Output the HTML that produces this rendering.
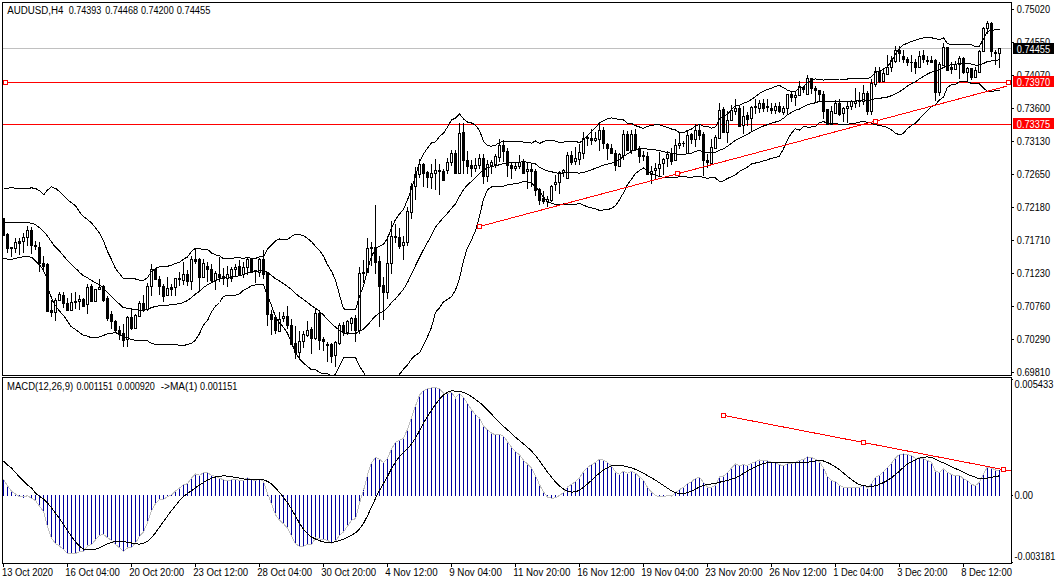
<!DOCTYPE html><html><head><meta charset="utf-8"><style>
html,body{margin:0;padding:0;background:#fff;width:1057px;height:584px;overflow:hidden}
svg{display:block;font-family:"Liberation Sans",sans-serif;font-size:10px}
.tl{font-size:10px;transform-box:fill-box}
</style></head><body>
<svg width="1057" height="584" viewBox="0 0 1057 584">
<defs>
<clipPath id="cm"><rect x="3" y="3" width="1008" height="372"/></clipPath>
<clipPath id="cd"><rect x="3" y="378" width="1008" height="185"/></clipPath>
</defs>
<rect width="1057" height="584" fill="#fff"/>
<g shape-rendering="crispEdges" fill="#000">
<rect x="2" y="2" width="1010" height="1"/>
<rect x="2" y="2" width="1" height="374"/>
<rect x="1011" y="2" width="1" height="374"/>
<rect x="2" y="375" width="1010" height="1"/>
<rect x="2" y="377" width="1010" height="1"/>
<rect x="2" y="377" width="1" height="187"/>
<rect x="1011" y="377" width="1" height="187"/>
<rect x="2" y="563" width="1010" height="1"/>
</g>
<g clip-path="url(#cm)">
<g shape-rendering="crispEdges">
<rect x="3" y="48" width="1008" height="1" fill="#c0c0c0"/>
<rect x="3" y="82" width="1008" height="1" fill="#f00"/>
<rect x="3" y="124" width="1008" height="1" fill="#f00"/>
<rect x="3.5" y="80.5" width="4" height="4" fill="#fff" stroke="#f00" stroke-width="1"/><rect x="1006.5" y="80.5" width="4" height="4" fill="#fff" stroke="#f00" stroke-width="1"/>
</g>
<g shape-rendering="crispEdges" fill="#000">
<rect x="3" y="218" width="1" height="18"/>
<rect x="2" y="218" width="3" height="18"/>
<rect x="7" y="233" width="1" height="20"/>
<rect x="6" y="234" width="3" height="15"/>
<rect x="11" y="247" width="1" height="10"/>
<rect x="10" y="247" width="3" height="2"/>
<rect x="15" y="238" width="1" height="15"/>
<rect x="14" y="242" width="3" height="7"/>
<rect x="15" y="243" width="1" height="5" fill="#fff"/>
<rect x="19" y="238" width="1" height="17"/>
<rect x="18" y="241" width="3" height="3"/>
<rect x="23" y="233" width="1" height="20"/>
<rect x="22" y="237" width="3" height="5"/>
<rect x="23" y="238" width="1" height="3" fill="#fff"/>
<rect x="27" y="226" width="1" height="20"/>
<rect x="26" y="230" width="3" height="8"/>
<rect x="27" y="231" width="1" height="6" fill="#fff"/>
<rect x="31" y="227" width="1" height="27"/>
<rect x="30" y="230" width="3" height="16"/>
<rect x="35" y="241" width="1" height="9"/>
<rect x="34" y="245" width="3" height="2"/>
<rect x="39" y="242" width="1" height="30"/>
<rect x="38" y="247" width="3" height="17"/>
<rect x="43" y="256" width="1" height="15"/>
<rect x="42" y="263" width="3" height="4"/>
<rect x="47" y="263" width="1" height="49"/>
<rect x="46" y="264" width="3" height="48"/>
<rect x="51" y="300" width="1" height="17"/>
<rect x="50" y="310" width="3" height="3"/>
<rect x="55" y="298" width="1" height="23"/>
<rect x="54" y="300" width="3" height="13"/>
<rect x="55" y="301" width="1" height="11" fill="#fff"/>
<rect x="59" y="292" width="1" height="9"/>
<rect x="58" y="294" width="3" height="7"/>
<rect x="59" y="295" width="1" height="5" fill="#fff"/>
<rect x="63" y="292" width="1" height="16"/>
<rect x="62" y="295" width="3" height="9"/>
<rect x="67" y="298" width="1" height="13"/>
<rect x="66" y="303" width="3" height="8"/>
<rect x="71" y="293" width="1" height="18"/>
<rect x="70" y="302" width="3" height="9"/>
<rect x="71" y="303" width="1" height="7" fill="#fff"/>
<rect x="75" y="292" width="1" height="17"/>
<rect x="74" y="301" width="3" height="2"/>
<rect x="79" y="295" width="1" height="15"/>
<rect x="78" y="299" width="3" height="3"/>
<rect x="79" y="300" width="1" height="1" fill="#fff"/>
<rect x="83" y="298" width="1" height="9"/>
<rect x="82" y="299" width="3" height="8"/>
<rect x="87" y="284" width="1" height="30"/>
<rect x="86" y="287" width="3" height="18"/>
<rect x="87" y="288" width="1" height="16" fill="#fff"/>
<rect x="91" y="284" width="1" height="18"/>
<rect x="90" y="286" width="3" height="16"/>
<rect x="95" y="289" width="1" height="13"/>
<rect x="94" y="289" width="3" height="13"/>
<rect x="95" y="290" width="1" height="11" fill="#fff"/>
<rect x="99" y="279" width="1" height="11"/>
<rect x="98" y="287" width="3" height="3"/>
<rect x="99" y="288" width="1" height="1" fill="#fff"/>
<rect x="103" y="285" width="1" height="17"/>
<rect x="102" y="286" width="3" height="15"/>
<rect x="107" y="296" width="1" height="25"/>
<rect x="106" y="298" width="3" height="21"/>
<rect x="111" y="311" width="1" height="18"/>
<rect x="110" y="314" width="3" height="8"/>
<rect x="115" y="320" width="1" height="13"/>
<rect x="114" y="321" width="3" height="10"/>
<rect x="119" y="326" width="1" height="14"/>
<rect x="118" y="330" width="3" height="5"/>
<rect x="123" y="324" width="1" height="23"/>
<rect x="122" y="333" width="3" height="8"/>
<rect x="127" y="316" width="1" height="31"/>
<rect x="126" y="317" width="3" height="23"/>
<rect x="127" y="318" width="1" height="21" fill="#fff"/>
<rect x="131" y="308" width="1" height="22"/>
<rect x="130" y="317" width="3" height="12"/>
<rect x="135" y="314" width="1" height="15"/>
<rect x="134" y="315" width="3" height="14"/>
<rect x="135" y="316" width="1" height="12" fill="#fff"/>
<rect x="139" y="301" width="1" height="16"/>
<rect x="138" y="303" width="3" height="14"/>
<rect x="139" y="304" width="1" height="12" fill="#fff"/>
<rect x="143" y="295" width="1" height="17"/>
<rect x="142" y="303" width="3" height="7"/>
<rect x="147" y="283" width="1" height="28"/>
<rect x="146" y="286" width="3" height="24"/>
<rect x="147" y="287" width="1" height="22" fill="#fff"/>
<rect x="151" y="264" width="1" height="32"/>
<rect x="150" y="269" width="3" height="18"/>
<rect x="151" y="270" width="1" height="16" fill="#fff"/>
<rect x="155" y="269" width="1" height="11"/>
<rect x="154" y="269" width="3" height="11"/>
<rect x="159" y="276" width="1" height="19"/>
<rect x="158" y="279" width="3" height="8"/>
<rect x="163" y="284" width="1" height="18"/>
<rect x="162" y="286" width="3" height="11"/>
<rect x="167" y="277" width="1" height="19"/>
<rect x="166" y="288" width="3" height="8"/>
<rect x="167" y="289" width="1" height="6" fill="#fff"/>
<rect x="171" y="284" width="1" height="12"/>
<rect x="170" y="287" width="3" height="3"/>
<rect x="175" y="278" width="1" height="18"/>
<rect x="174" y="278" width="3" height="10"/>
<rect x="175" y="279" width="1" height="8" fill="#fff"/>
<rect x="179" y="272" width="1" height="14"/>
<rect x="178" y="278" width="3" height="2"/>
<rect x="183" y="262" width="1" height="23"/>
<rect x="182" y="274" width="3" height="7"/>
<rect x="183" y="275" width="1" height="5" fill="#fff"/>
<rect x="187" y="270" width="1" height="16"/>
<rect x="186" y="274" width="3" height="8"/>
<rect x="191" y="256" width="1" height="34"/>
<rect x="190" y="259" width="3" height="23"/>
<rect x="191" y="260" width="1" height="21" fill="#fff"/>
<rect x="195" y="249" width="1" height="15"/>
<rect x="194" y="259" width="3" height="3"/>
<rect x="199" y="258" width="1" height="33"/>
<rect x="198" y="259" width="3" height="19"/>
<rect x="203" y="259" width="1" height="19"/>
<rect x="202" y="263" width="3" height="15"/>
<rect x="203" y="264" width="1" height="13" fill="#fff"/>
<rect x="207" y="262" width="1" height="20"/>
<rect x="206" y="266" width="3" height="4"/>
<rect x="211" y="264" width="1" height="18"/>
<rect x="210" y="269" width="3" height="12"/>
<rect x="215" y="271" width="1" height="19"/>
<rect x="214" y="273" width="3" height="8"/>
<rect x="215" y="274" width="1" height="6" fill="#fff"/>
<rect x="219" y="257" width="1" height="25"/>
<rect x="218" y="274" width="3" height="4"/>
<rect x="223" y="268" width="1" height="17"/>
<rect x="222" y="276" width="3" height="3"/>
<rect x="227" y="266" width="1" height="21"/>
<rect x="226" y="274" width="3" height="5"/>
<rect x="227" y="275" width="1" height="3" fill="#fff"/>
<rect x="231" y="267" width="1" height="15"/>
<rect x="230" y="269" width="3" height="10"/>
<rect x="231" y="270" width="1" height="8" fill="#fff"/>
<rect x="235" y="264" width="1" height="13"/>
<rect x="234" y="267" width="3" height="3"/>
<rect x="235" y="268" width="1" height="1" fill="#fff"/>
<rect x="239" y="260" width="1" height="16"/>
<rect x="238" y="266" width="3" height="9"/>
<rect x="243" y="262" width="1" height="16"/>
<rect x="242" y="267" width="3" height="8"/>
<rect x="243" y="268" width="1" height="6" fill="#fff"/>
<rect x="247" y="258" width="1" height="17"/>
<rect x="246" y="259" width="3" height="9"/>
<rect x="247" y="260" width="1" height="7" fill="#fff"/>
<rect x="251" y="258" width="1" height="15"/>
<rect x="250" y="258" width="3" height="15"/>
<rect x="255" y="270" width="1" height="13"/>
<rect x="254" y="270" width="3" height="2"/>
<rect x="259" y="258" width="1" height="19"/>
<rect x="258" y="259" width="3" height="14"/>
<rect x="259" y="260" width="1" height="12" fill="#fff"/>
<rect x="263" y="250" width="1" height="29"/>
<rect x="262" y="259" width="3" height="16"/>
<rect x="267" y="272" width="1" height="54"/>
<rect x="266" y="272" width="3" height="43"/>
<rect x="271" y="310" width="1" height="25"/>
<rect x="270" y="314" width="3" height="6"/>
<rect x="275" y="316" width="1" height="18"/>
<rect x="274" y="317" width="3" height="14"/>
<rect x="279" y="312" width="1" height="20"/>
<rect x="278" y="319" width="3" height="13"/>
<rect x="279" y="320" width="1" height="11" fill="#fff"/>
<rect x="283" y="312" width="1" height="10"/>
<rect x="282" y="316" width="3" height="3"/>
<rect x="283" y="317" width="1" height="1" fill="#fff"/>
<rect x="287" y="306" width="1" height="23"/>
<rect x="286" y="316" width="3" height="10"/>
<rect x="291" y="319" width="1" height="26"/>
<rect x="290" y="325" width="3" height="20"/>
<rect x="295" y="326" width="1" height="33"/>
<rect x="294" y="343" width="3" height="10"/>
<rect x="299" y="331" width="1" height="27"/>
<rect x="298" y="341" width="3" height="12"/>
<rect x="299" y="342" width="1" height="10" fill="#fff"/>
<rect x="303" y="331" width="1" height="17"/>
<rect x="302" y="334" width="3" height="8"/>
<rect x="303" y="335" width="1" height="6" fill="#fff"/>
<rect x="307" y="321" width="1" height="16"/>
<rect x="306" y="330" width="3" height="6"/>
<rect x="307" y="331" width="1" height="4" fill="#fff"/>
<rect x="311" y="327" width="1" height="27"/>
<rect x="310" y="329" width="3" height="10"/>
<rect x="315" y="309" width="1" height="31"/>
<rect x="314" y="313" width="3" height="26"/>
<rect x="315" y="314" width="1" height="24" fill="#fff"/>
<rect x="319" y="310" width="1" height="40"/>
<rect x="318" y="313" width="3" height="28"/>
<rect x="323" y="337" width="1" height="14"/>
<rect x="322" y="339" width="3" height="3"/>
<rect x="327" y="342" width="1" height="20"/>
<rect x="326" y="344" width="3" height="2"/>
<rect x="331" y="343" width="1" height="20"/>
<rect x="330" y="344" width="3" height="13"/>
<rect x="335" y="341" width="1" height="26"/>
<rect x="334" y="342" width="3" height="14"/>
<rect x="335" y="343" width="1" height="12" fill="#fff"/>
<rect x="339" y="323" width="1" height="22"/>
<rect x="338" y="325" width="3" height="19"/>
<rect x="339" y="326" width="1" height="17" fill="#fff"/>
<rect x="343" y="322" width="1" height="14"/>
<rect x="342" y="325" width="3" height="8"/>
<rect x="347" y="320" width="1" height="15"/>
<rect x="346" y="321" width="3" height="12"/>
<rect x="347" y="322" width="1" height="10" fill="#fff"/>
<rect x="351" y="317" width="1" height="14"/>
<rect x="350" y="318" width="3" height="6"/>
<rect x="351" y="319" width="1" height="4" fill="#fff"/>
<rect x="355" y="315" width="1" height="27"/>
<rect x="354" y="318" width="3" height="13"/>
<rect x="359" y="267" width="1" height="67"/>
<rect x="358" y="273" width="3" height="58"/>
<rect x="359" y="274" width="1" height="56" fill="#fff"/>
<rect x="363" y="260" width="1" height="23"/>
<rect x="362" y="272" width="3" height="2"/>
<rect x="367" y="238" width="1" height="35"/>
<rect x="366" y="248" width="3" height="25"/>
<rect x="367" y="249" width="1" height="23" fill="#fff"/>
<rect x="371" y="242" width="1" height="24"/>
<rect x="370" y="247" width="3" height="2"/>
<rect x="375" y="205" width="1" height="69"/>
<rect x="374" y="247" width="3" height="16"/>
<rect x="379" y="256" width="1" height="71"/>
<rect x="378" y="261" width="3" height="26"/>
<rect x="383" y="277" width="1" height="43"/>
<rect x="382" y="285" width="3" height="8"/>
<rect x="387" y="236" width="1" height="63"/>
<rect x="386" y="263" width="3" height="30"/>
<rect x="387" y="264" width="1" height="28" fill="#fff"/>
<rect x="391" y="221" width="1" height="53"/>
<rect x="390" y="236" width="3" height="28"/>
<rect x="391" y="237" width="1" height="26" fill="#fff"/>
<rect x="395" y="224" width="1" height="19"/>
<rect x="394" y="236" width="3" height="2"/>
<rect x="399" y="228" width="1" height="21"/>
<rect x="398" y="237" width="3" height="10"/>
<rect x="403" y="236" width="1" height="24"/>
<rect x="402" y="242" width="3" height="4"/>
<rect x="403" y="243" width="1" height="2" fill="#fff"/>
<rect x="407" y="207" width="1" height="39"/>
<rect x="406" y="211" width="3" height="32"/>
<rect x="407" y="212" width="1" height="30" fill="#fff"/>
<rect x="411" y="183" width="1" height="36"/>
<rect x="410" y="186" width="3" height="27"/>
<rect x="411" y="187" width="1" height="25" fill="#fff"/>
<rect x="415" y="167" width="1" height="33"/>
<rect x="414" y="174" width="3" height="13"/>
<rect x="415" y="175" width="1" height="11" fill="#fff"/>
<rect x="419" y="159" width="1" height="19"/>
<rect x="418" y="164" width="3" height="11"/>
<rect x="419" y="165" width="1" height="9" fill="#fff"/>
<rect x="423" y="163" width="1" height="24"/>
<rect x="422" y="164" width="3" height="10"/>
<rect x="427" y="171" width="1" height="17"/>
<rect x="426" y="172" width="3" height="6"/>
<rect x="431" y="164" width="1" height="25"/>
<rect x="430" y="173" width="3" height="5"/>
<rect x="431" y="174" width="1" height="3" fill="#fff"/>
<rect x="435" y="159" width="1" height="31"/>
<rect x="434" y="170" width="3" height="4"/>
<rect x="435" y="171" width="1" height="2" fill="#fff"/>
<rect x="439" y="164" width="1" height="31"/>
<rect x="438" y="170" width="3" height="2"/>
<rect x="443" y="169" width="1" height="12"/>
<rect x="442" y="171" width="3" height="10"/>
<rect x="447" y="158" width="1" height="16"/>
<rect x="446" y="162" width="3" height="9"/>
<rect x="447" y="163" width="1" height="7" fill="#fff"/>
<rect x="451" y="150" width="1" height="16"/>
<rect x="450" y="153" width="3" height="10"/>
<rect x="451" y="154" width="1" height="8" fill="#fff"/>
<rect x="455" y="150" width="1" height="24"/>
<rect x="454" y="153" width="3" height="21"/>
<rect x="459" y="123" width="1" height="51"/>
<rect x="458" y="133" width="3" height="41"/>
<rect x="459" y="134" width="1" height="39" fill="#fff"/>
<rect x="463" y="123" width="1" height="51"/>
<rect x="462" y="132" width="3" height="29"/>
<rect x="467" y="151" width="1" height="23"/>
<rect x="466" y="160" width="3" height="7"/>
<rect x="471" y="160" width="1" height="17"/>
<rect x="470" y="165" width="3" height="4"/>
<rect x="475" y="158" width="1" height="14"/>
<rect x="474" y="165" width="3" height="4"/>
<rect x="475" y="166" width="1" height="2" fill="#fff"/>
<rect x="479" y="154" width="1" height="15"/>
<rect x="478" y="158" width="3" height="8"/>
<rect x="479" y="159" width="1" height="6" fill="#fff"/>
<rect x="483" y="154" width="1" height="30"/>
<rect x="482" y="158" width="3" height="19"/>
<rect x="487" y="160" width="1" height="22"/>
<rect x="486" y="164" width="3" height="13"/>
<rect x="487" y="165" width="1" height="11" fill="#fff"/>
<rect x="491" y="160" width="1" height="14"/>
<rect x="490" y="162" width="3" height="4"/>
<rect x="491" y="163" width="1" height="2" fill="#fff"/>
<rect x="495" y="154" width="1" height="14"/>
<rect x="494" y="156" width="3" height="9"/>
<rect x="495" y="157" width="1" height="7" fill="#fff"/>
<rect x="499" y="139" width="1" height="23"/>
<rect x="498" y="145" width="3" height="13"/>
<rect x="499" y="146" width="1" height="11" fill="#fff"/>
<rect x="503" y="140" width="1" height="22"/>
<rect x="502" y="145" width="3" height="7"/>
<rect x="507" y="148" width="1" height="29"/>
<rect x="506" y="151" width="3" height="15"/>
<rect x="511" y="163" width="1" height="16"/>
<rect x="510" y="165" width="3" height="4"/>
<rect x="515" y="162" width="1" height="9"/>
<rect x="514" y="166" width="3" height="3"/>
<rect x="515" y="167" width="1" height="1" fill="#fff"/>
<rect x="519" y="155" width="1" height="14"/>
<rect x="518" y="162" width="3" height="5"/>
<rect x="519" y="163" width="1" height="3" fill="#fff"/>
<rect x="523" y="159" width="1" height="15"/>
<rect x="522" y="161" width="3" height="13"/>
<rect x="527" y="162" width="1" height="27"/>
<rect x="526" y="169" width="3" height="3"/>
<rect x="527" y="170" width="1" height="1" fill="#fff"/>
<rect x="531" y="163" width="1" height="24"/>
<rect x="530" y="169" width="3" height="3"/>
<rect x="535" y="169" width="1" height="27"/>
<rect x="534" y="171" width="3" height="20"/>
<rect x="539" y="188" width="1" height="17"/>
<rect x="538" y="189" width="3" height="12"/>
<rect x="543" y="191" width="1" height="13"/>
<rect x="542" y="198" width="3" height="4"/>
<rect x="547" y="196" width="1" height="11"/>
<rect x="546" y="199" width="3" height="3"/>
<rect x="547" y="200" width="1" height="1" fill="#fff"/>
<rect x="551" y="185" width="1" height="17"/>
<rect x="550" y="186" width="3" height="15"/>
<rect x="551" y="187" width="1" height="13" fill="#fff"/>
<rect x="555" y="175" width="1" height="16"/>
<rect x="554" y="182" width="3" height="3"/>
<rect x="555" y="183" width="1" height="1" fill="#fff"/>
<rect x="559" y="171" width="1" height="23"/>
<rect x="558" y="172" width="3" height="11"/>
<rect x="559" y="173" width="1" height="9" fill="#fff"/>
<rect x="563" y="169" width="1" height="8"/>
<rect x="562" y="170" width="3" height="3"/>
<rect x="563" y="171" width="1" height="1" fill="#fff"/>
<rect x="567" y="152" width="1" height="27"/>
<rect x="566" y="155" width="3" height="24"/>
<rect x="567" y="156" width="1" height="22" fill="#fff"/>
<rect x="571" y="151" width="1" height="14"/>
<rect x="570" y="155" width="3" height="8"/>
<rect x="575" y="147" width="1" height="18"/>
<rect x="574" y="158" width="3" height="4"/>
<rect x="575" y="159" width="1" height="2" fill="#fff"/>
<rect x="579" y="144" width="1" height="21"/>
<rect x="578" y="152" width="3" height="8"/>
<rect x="579" y="153" width="1" height="6" fill="#fff"/>
<rect x="583" y="132" width="1" height="27"/>
<rect x="582" y="138" width="3" height="16"/>
<rect x="583" y="139" width="1" height="14" fill="#fff"/>
<rect x="587" y="136" width="1" height="10"/>
<rect x="586" y="137" width="3" height="2"/>
<rect x="591" y="129" width="1" height="16"/>
<rect x="590" y="138" width="3" height="3"/>
<rect x="595" y="132" width="1" height="10"/>
<rect x="594" y="138" width="3" height="3"/>
<rect x="595" y="139" width="1" height="1" fill="#fff"/>
<rect x="599" y="122" width="1" height="29"/>
<rect x="598" y="130" width="3" height="10"/>
<rect x="599" y="131" width="1" height="8" fill="#fff"/>
<rect x="603" y="127" width="1" height="22"/>
<rect x="602" y="130" width="3" height="14"/>
<rect x="607" y="143" width="1" height="17"/>
<rect x="606" y="144" width="3" height="5"/>
<rect x="611" y="144" width="1" height="10"/>
<rect x="610" y="148" width="3" height="6"/>
<rect x="615" y="150" width="1" height="21"/>
<rect x="614" y="153" width="3" height="13"/>
<rect x="619" y="153" width="1" height="14"/>
<rect x="618" y="154" width="3" height="13"/>
<rect x="619" y="155" width="1" height="11" fill="#fff"/>
<rect x="623" y="130" width="1" height="30"/>
<rect x="622" y="134" width="3" height="22"/>
<rect x="623" y="135" width="1" height="20" fill="#fff"/>
<rect x="627" y="131" width="1" height="20"/>
<rect x="626" y="134" width="3" height="17"/>
<rect x="631" y="130" width="1" height="24"/>
<rect x="630" y="134" width="3" height="17"/>
<rect x="631" y="135" width="1" height="15" fill="#fff"/>
<rect x="635" y="129" width="1" height="22"/>
<rect x="634" y="134" width="3" height="15"/>
<rect x="639" y="146" width="1" height="17"/>
<rect x="638" y="148" width="3" height="9"/>
<rect x="643" y="151" width="1" height="10"/>
<rect x="642" y="155" width="3" height="2"/>
<rect x="647" y="152" width="1" height="23"/>
<rect x="646" y="156" width="3" height="19"/>
<rect x="651" y="166" width="1" height="18"/>
<rect x="650" y="171" width="3" height="4"/>
<rect x="651" y="172" width="1" height="2" fill="#fff"/>
<rect x="655" y="163" width="1" height="17"/>
<rect x="654" y="168" width="3" height="3"/>
<rect x="655" y="169" width="1" height="1" fill="#fff"/>
<rect x="659" y="152" width="1" height="24"/>
<rect x="658" y="164" width="3" height="5"/>
<rect x="659" y="165" width="1" height="3" fill="#fff"/>
<rect x="663" y="158" width="1" height="17"/>
<rect x="662" y="159" width="3" height="5"/>
<rect x="663" y="160" width="1" height="3" fill="#fff"/>
<rect x="667" y="151" width="1" height="16"/>
<rect x="666" y="154" width="3" height="5"/>
<rect x="667" y="155" width="1" height="3" fill="#fff"/>
<rect x="671" y="148" width="1" height="17"/>
<rect x="670" y="153" width="3" height="9"/>
<rect x="675" y="139" width="1" height="22"/>
<rect x="674" y="145" width="3" height="16"/>
<rect x="675" y="146" width="1" height="14" fill="#fff"/>
<rect x="679" y="132" width="1" height="17"/>
<rect x="678" y="143" width="3" height="3"/>
<rect x="679" y="144" width="1" height="1" fill="#fff"/>
<rect x="683" y="141" width="1" height="6"/>
<rect x="682" y="143" width="3" height="1"/>
<rect x="687" y="131" width="1" height="23"/>
<rect x="686" y="135" width="3" height="19"/>
<rect x="687" y="136" width="1" height="17" fill="#fff"/>
<rect x="691" y="133" width="1" height="11"/>
<rect x="690" y="134" width="3" height="6"/>
<rect x="695" y="124" width="1" height="23"/>
<rect x="694" y="130" width="3" height="10"/>
<rect x="695" y="131" width="1" height="8" fill="#fff"/>
<rect x="699" y="124" width="1" height="16"/>
<rect x="698" y="130" width="3" height="6"/>
<rect x="703" y="132" width="1" height="44"/>
<rect x="702" y="134" width="3" height="27"/>
<rect x="707" y="154" width="1" height="14"/>
<rect x="706" y="160" width="3" height="3"/>
<rect x="711" y="139" width="1" height="26"/>
<rect x="710" y="147" width="3" height="17"/>
<rect x="711" y="148" width="1" height="15" fill="#fff"/>
<rect x="715" y="135" width="1" height="14"/>
<rect x="714" y="137" width="3" height="12"/>
<rect x="715" y="138" width="1" height="10" fill="#fff"/>
<rect x="719" y="103" width="1" height="36"/>
<rect x="718" y="110" width="3" height="29"/>
<rect x="719" y="111" width="1" height="27" fill="#fff"/>
<rect x="723" y="107" width="1" height="26"/>
<rect x="722" y="109" width="3" height="24"/>
<rect x="727" y="111" width="1" height="32"/>
<rect x="726" y="120" width="3" height="13"/>
<rect x="727" y="121" width="1" height="11" fill="#fff"/>
<rect x="731" y="105" width="1" height="16"/>
<rect x="730" y="110" width="3" height="11"/>
<rect x="731" y="111" width="1" height="9" fill="#fff"/>
<rect x="735" y="99" width="1" height="16"/>
<rect x="734" y="108" width="3" height="4"/>
<rect x="735" y="109" width="1" height="2" fill="#fff"/>
<rect x="739" y="106" width="1" height="21"/>
<rect x="738" y="108" width="3" height="19"/>
<rect x="743" y="106" width="1" height="28"/>
<rect x="742" y="116" width="3" height="10"/>
<rect x="743" y="117" width="1" height="8" fill="#fff"/>
<rect x="747" y="112" width="1" height="14"/>
<rect x="746" y="115" width="3" height="5"/>
<rect x="751" y="106" width="1" height="26"/>
<rect x="750" y="107" width="3" height="12"/>
<rect x="751" y="108" width="1" height="10" fill="#fff"/>
<rect x="755" y="99" width="1" height="15"/>
<rect x="754" y="106" width="3" height="2"/>
<rect x="759" y="100" width="1" height="13"/>
<rect x="758" y="103" width="3" height="6"/>
<rect x="759" y="104" width="1" height="4" fill="#fff"/>
<rect x="763" y="99" width="1" height="13"/>
<rect x="762" y="103" width="3" height="6"/>
<rect x="767" y="99" width="1" height="13"/>
<rect x="766" y="106" width="3" height="2"/>
<rect x="771" y="103" width="1" height="11"/>
<rect x="770" y="108" width="3" height="3"/>
<rect x="775" y="103" width="1" height="11"/>
<rect x="774" y="106" width="3" height="5"/>
<rect x="775" y="107" width="1" height="3" fill="#fff"/>
<rect x="779" y="102" width="1" height="11"/>
<rect x="778" y="106" width="3" height="6"/>
<rect x="783" y="106" width="1" height="9"/>
<rect x="782" y="108" width="3" height="5"/>
<rect x="783" y="109" width="1" height="3" fill="#fff"/>
<rect x="787" y="94" width="1" height="21"/>
<rect x="786" y="94" width="3" height="15"/>
<rect x="787" y="95" width="1" height="13" fill="#fff"/>
<rect x="791" y="91" width="1" height="11"/>
<rect x="790" y="94" width="3" height="4"/>
<rect x="795" y="91" width="1" height="15"/>
<rect x="794" y="95" width="3" height="3"/>
<rect x="795" y="96" width="1" height="1" fill="#fff"/>
<rect x="799" y="81" width="1" height="15"/>
<rect x="798" y="86" width="3" height="10"/>
<rect x="799" y="87" width="1" height="8" fill="#fff"/>
<rect x="803" y="86" width="1" height="7"/>
<rect x="802" y="87" width="3" height="3"/>
<rect x="807" y="75" width="1" height="20"/>
<rect x="806" y="78" width="3" height="17"/>
<rect x="807" y="79" width="1" height="15" fill="#fff"/>
<rect x="811" y="78" width="1" height="16"/>
<rect x="810" y="78" width="3" height="11"/>
<rect x="815" y="86" width="1" height="17"/>
<rect x="814" y="88" width="3" height="3"/>
<rect x="819" y="90" width="1" height="12"/>
<rect x="818" y="90" width="3" height="5"/>
<rect x="823" y="91" width="1" height="28"/>
<rect x="822" y="94" width="3" height="18"/>
<rect x="827" y="109" width="1" height="16"/>
<rect x="826" y="109" width="3" height="16"/>
<rect x="831" y="106" width="1" height="19"/>
<rect x="830" y="111" width="3" height="14"/>
<rect x="831" y="112" width="1" height="12" fill="#fff"/>
<rect x="835" y="100" width="1" height="14"/>
<rect x="834" y="103" width="3" height="11"/>
<rect x="835" y="104" width="1" height="9" fill="#fff"/>
<rect x="839" y="99" width="1" height="17"/>
<rect x="838" y="103" width="3" height="12"/>
<rect x="843" y="107" width="1" height="15"/>
<rect x="842" y="108" width="3" height="6"/>
<rect x="843" y="109" width="1" height="4" fill="#fff"/>
<rect x="847" y="102" width="1" height="21"/>
<rect x="846" y="106" width="3" height="3"/>
<rect x="847" y="107" width="1" height="1" fill="#fff"/>
<rect x="851" y="100" width="1" height="10"/>
<rect x="850" y="101" width="3" height="6"/>
<rect x="851" y="102" width="1" height="4" fill="#fff"/>
<rect x="855" y="88" width="1" height="20"/>
<rect x="854" y="101" width="3" height="3"/>
<rect x="855" y="102" width="1" height="1" fill="#fff"/>
<rect x="859" y="92" width="1" height="15"/>
<rect x="858" y="100" width="3" height="2"/>
<rect x="863" y="85" width="1" height="20"/>
<rect x="862" y="93" width="3" height="9"/>
<rect x="863" y="94" width="1" height="7" fill="#fff"/>
<rect x="867" y="91" width="1" height="24"/>
<rect x="866" y="93" width="3" height="19"/>
<rect x="871" y="79" width="1" height="36"/>
<rect x="870" y="83" width="3" height="29"/>
<rect x="871" y="84" width="1" height="27" fill="#fff"/>
<rect x="875" y="67" width="1" height="20"/>
<rect x="874" y="71" width="3" height="14"/>
<rect x="875" y="72" width="1" height="12" fill="#fff"/>
<rect x="879" y="67" width="1" height="16"/>
<rect x="878" y="71" width="3" height="11"/>
<rect x="883" y="69" width="1" height="13"/>
<rect x="882" y="73" width="3" height="9"/>
<rect x="883" y="74" width="1" height="7" fill="#fff"/>
<rect x="887" y="55" width="1" height="20"/>
<rect x="886" y="67" width="3" height="8"/>
<rect x="887" y="68" width="1" height="6" fill="#fff"/>
<rect x="891" y="56" width="1" height="16"/>
<rect x="890" y="60" width="3" height="8"/>
<rect x="891" y="61" width="1" height="6" fill="#fff"/>
<rect x="895" y="46" width="1" height="17"/>
<rect x="894" y="50" width="3" height="12"/>
<rect x="895" y="51" width="1" height="10" fill="#fff"/>
<rect x="899" y="46" width="1" height="16"/>
<rect x="898" y="50" width="3" height="4"/>
<rect x="903" y="50" width="1" height="13"/>
<rect x="902" y="56" width="3" height="4"/>
<rect x="907" y="57" width="1" height="9"/>
<rect x="906" y="59" width="3" height="4"/>
<rect x="911" y="55" width="1" height="17"/>
<rect x="910" y="62" width="3" height="1"/>
<rect x="915" y="59" width="1" height="15"/>
<rect x="914" y="62" width="3" height="6"/>
<rect x="919" y="51" width="1" height="17"/>
<rect x="918" y="56" width="3" height="12"/>
<rect x="919" y="57" width="1" height="10" fill="#fff"/>
<rect x="923" y="50" width="1" height="13"/>
<rect x="922" y="55" width="3" height="5"/>
<rect x="927" y="56" width="1" height="9"/>
<rect x="926" y="60" width="3" height="2"/>
<rect x="931" y="56" width="1" height="7"/>
<rect x="930" y="60" width="3" height="3"/>
<rect x="935" y="59" width="1" height="42"/>
<rect x="934" y="60" width="3" height="33"/>
<rect x="939" y="62" width="1" height="34"/>
<rect x="938" y="64" width="3" height="29"/>
<rect x="939" y="65" width="1" height="27" fill="#fff"/>
<rect x="943" y="43" width="1" height="23"/>
<rect x="942" y="47" width="3" height="19"/>
<rect x="943" y="48" width="1" height="17" fill="#fff"/>
<rect x="947" y="47" width="1" height="24"/>
<rect x="946" y="47" width="3" height="24"/>
<rect x="951" y="62" width="1" height="12"/>
<rect x="950" y="67" width="3" height="3"/>
<rect x="955" y="61" width="1" height="9"/>
<rect x="954" y="64" width="3" height="6"/>
<rect x="955" y="65" width="1" height="4" fill="#fff"/>
<rect x="959" y="56" width="1" height="23"/>
<rect x="958" y="58" width="3" height="7"/>
<rect x="959" y="59" width="1" height="5" fill="#fff"/>
<rect x="963" y="57" width="1" height="17"/>
<rect x="962" y="58" width="3" height="15"/>
<rect x="967" y="67" width="1" height="15"/>
<rect x="966" y="68" width="3" height="5"/>
<rect x="967" y="69" width="1" height="3" fill="#fff"/>
<rect x="971" y="68" width="1" height="12"/>
<rect x="970" y="68" width="3" height="10"/>
<rect x="975" y="67" width="1" height="11"/>
<rect x="974" y="70" width="3" height="8"/>
<rect x="975" y="71" width="1" height="6" fill="#fff"/>
<rect x="979" y="50" width="1" height="23"/>
<rect x="978" y="51" width="3" height="22"/>
<rect x="979" y="52" width="1" height="20" fill="#fff"/>
<rect x="983" y="27" width="1" height="25"/>
<rect x="982" y="28" width="3" height="24"/>
<rect x="983" y="29" width="1" height="22" fill="#fff"/>
<rect x="987" y="21" width="1" height="13"/>
<rect x="986" y="23" width="3" height="6"/>
<rect x="987" y="24" width="1" height="4" fill="#fff"/>
<rect x="991" y="22" width="1" height="35"/>
<rect x="990" y="23" width="3" height="29"/>
<rect x="995" y="50" width="1" height="15"/>
<rect x="994" y="52" width="3" height="2"/>
<rect x="999" y="48" width="1" height="20"/>
<rect x="998" y="48" width="3" height="6"/>
<rect x="999" y="49" width="1" height="4" fill="#fff"/>
</g>
<g shape-rendering="crispEdges"><polyline points="3.5,222.9 29.7,222.9 34.5,224.1 41.8,229.6 46.7,235.0 54.0,245.4 58.8,250.2 68.5,261.8 78.3,270.9 79.5,272.3 83.5,275.9 87.5,277.8 91.5,280.4 95.5,282.8 99.5,285.0 103.5,288.1 107.5,292.6 111.5,296.4 115.5,300.6 119.5,304.1 123.5,307.8 127.5,308.1 131.5,308.9 135.5,309.6 139.5,310.1 143.5,310.4 147.5,309.2 151.5,307.6 155.5,306.4 159.5,305.8 163.5,305.2 167.5,305.3 171.5,304.7 175.5,304.1 179.5,303.8 183.5,302.4 187.5,300.6 191.5,297.5 195.5,294.1 199.5,291.2 203.5,287.4 207.5,284.9 211.5,282.6 215.5,280.4 219.5,279.1 223.5,277.6 227.5,277.0 231.5,277.0 235.5,276.4 239.5,275.8 243.5,274.4 247.5,272.9 251.5,272.1 255.5,271.7 259.5,270.7 263.5,270.7 267.5,272.4 271.5,275.4 275.5,278.8 279.5,280.9 283.5,283.6 287.5,286.4 291.5,289.6 295.5,293.5 299.5,296.7 303.5,299.5 307.5,302.3 311.5,305.8 315.5,308.1 319.5,311.4 323.5,315.1 327.5,319.4 331.5,323.6 335.5,327.1 339.5,330.4 343.5,333.3 347.5,333.6 351.5,333.6 355.5,333.6 359.5,331.3 363.5,329.1 367.5,325.2 371.5,320.4 375.5,315.9 379.5,313.2 383.5,311.1 387.5,307.8 391.5,302.6 395.5,298.9 399.5,294.1 403.5,289.2 407.5,282.5 411.5,274.0 415.5,265.6 419.5,257.6 423.5,249.6 427.5,242.4 431.5,235.2 435.5,227.2 439.5,222.1 443.5,217.4 447.5,213.2 451.5,208.4 455.5,203.9 459.5,196.3 463.5,189.7 467.5,184.8 471.5,181.4 475.5,177.8 479.5,173.4 483.5,170.2 487.5,167.8 491.5,166.6 495.5,165.7 499.5,164.8 503.5,163.7 507.5,163.1 511.5,162.8 515.5,162.6 519.5,162.2 523.5,161.8 527.5,162.2 531.5,163.1 535.5,163.9 539.5,167.2 543.5,169.3 547.5,170.9 551.5,171.8 555.5,172.7 559.5,173.4 563.5,173.1 567.5,172.7 571.5,172.7 575.5,172.8 579.5,173.1 583.5,172.4 587.5,171.1 591.5,169.7 595.5,168.3 599.5,166.7 603.5,165.2 607.5,164.2 611.5,163.2 615.5,162.0 619.5,159.7 623.5,156.3 627.5,153.9 631.5,151.3 635.5,149.6 639.5,148.8 643.5,148.1 647.5,149.1 651.5,149.5 655.5,150.0 659.5,150.6 663.5,151.7 667.5,152.4 671.5,153.5 675.5,153.8 679.5,154.5 683.5,154.5 687.5,153.8 691.5,153.2 695.5,151.4 699.5,150.4 703.5,151.8 707.5,152.3 711.5,153.0 715.5,152.4 719.5,150.2 723.5,148.9 727.5,146.2 731.5,143.2 735.5,140.2 739.5,138.3 743.5,136.2 747.5,134.4 751.5,131.7 755.5,129.8 759.5,127.8 763.5,126.0 767.5,124.7 771.5,123.2 775.5,122.0 779.5,120.8 783.5,118.2 787.5,114.8 791.5,112.3 795.5,110.2 799.5,109.0 803.5,106.8 807.5,104.8 811.5,103.7 815.5,102.8 819.5,101.2 823.5,100.9 827.5,101.2 831.5,101.3 835.5,101.2 839.5,101.7 843.5,101.7 847.5,101.7 851.5,101.2 855.5,101.0 859.5,100.5 863.5,99.7 867.5,100.5 871.5,99.8 875.5,98.7 879.5,98.4 883.5,97.6 887.5,97.0 891.5,95.7 895.5,93.7 899.5,91.6 903.5,89.0 907.5,85.9 911.5,83.5 915.5,81.7 919.5,78.8 923.5,76.3 927.5,74.0 931.5,72.1 935.5,71.7 939.5,69.8 943.5,67.5 947.5,65.5 951.5,64.8 955.5,64.4 959.5,63.2 963.5,63.2 967.5,63.2 971.5,64.1 975.5,65.1 979.5,65.0 983.5,63.5 987.5,61.5 991.5,61.0 995.5,60.2 999.5,59.9" fill="none" stroke="#000" stroke-width="1" /><polyline points="3.5,188.3 13.9,187.7 15.1,188.9 29.1,188.9 30.9,187.7 35.7,188.6 39.4,190.7 44.0,194.7 46.7,190.7 51.5,186.7 56.4,188.9 61.3,193.1 68.5,200.4 73.4,204.1 77.0,207.7 79.5,212.1 83.5,216.4 87.5,219.5 91.5,222.9 95.5,227.9 99.5,233.1 103.5,240.8 107.5,251.5 111.5,259.5 115.5,268.6 119.5,273.7 123.5,278.6 127.5,278.6 131.5,278.1 135.5,279.0 139.5,280.1 143.5,280.6 147.5,277.6 151.5,271.6 155.5,268.4 159.5,266.9 163.5,266.2 167.5,266.3 171.5,265.1 175.5,263.5 179.5,262.3 183.5,259.1 187.5,257.0 191.5,251.5 195.5,248.1 199.5,248.7 203.5,249.8 207.5,249.3 211.5,253.0 215.5,254.8 219.5,255.8 223.5,258.9 227.5,258.7 231.5,258.7 235.5,257.7 239.5,257.7 243.5,258.6 247.5,257.3 251.5,258.4 255.5,258.4 259.5,256.9 263.5,256.9 267.5,249.1 271.5,245.1 275.5,240.9 279.5,239.0 283.5,239.8 287.5,239.5 291.5,236.4 295.5,234.3 299.5,234.5 303.5,235.8 307.5,238.3 311.5,241.7 315.5,246.4 319.5,250.2 323.5,256.1 327.5,264.8 331.5,271.2 335.5,280.0 339.5,294.9 343.5,308.7 347.5,309.9 351.5,309.8 355.5,309.8 359.5,296.2 363.5,286.0 367.5,269.6 371.5,256.4 375.5,248.9 379.5,246.1 383.5,244.2 387.5,238.4 391.5,228.2 395.5,219.4 399.5,214.0 403.5,209.2 407.5,200.0 411.5,188.8 415.5,176.1 419.5,162.2 423.5,154.1 427.5,148.0 431.5,143.0 435.5,141.9 439.5,136.3 443.5,133.2 447.5,126.9 451.5,120.0 455.5,118.0 459.5,113.9 463.5,118.9 467.5,122.1 471.5,123.0 475.5,125.1 479.5,130.6 483.5,141.1 487.5,145.8 491.5,146.2 495.5,145.2 499.5,142.5 503.5,141.0 507.5,141.3 511.5,141.4 515.5,141.5 519.5,141.4 523.5,142.1 527.5,142.2 531.5,143.1 535.5,141.0 539.5,143.5 543.5,141.5 547.5,140.3 551.5,140.5 555.5,141.1 559.5,142.5 563.5,142.2 567.5,141.0 571.5,141.0 575.5,141.3 579.5,142.7 583.5,139.8 587.5,135.3 591.5,131.5 595.5,127.8 599.5,123.0 603.5,120.5 607.5,118.9 611.5,117.9 615.5,118.4 619.5,119.7 623.5,119.9 627.5,123.2 631.5,123.4 635.5,125.7 639.5,127.0 643.5,128.4 647.5,126.4 651.5,125.5 655.5,124.8 659.5,124.7 663.5,126.1 667.5,127.6 671.5,129.0 675.5,130.0 679.5,132.6 683.5,132.6 687.5,130.5 691.5,129.0 695.5,126.1 699.5,124.2 703.5,126.3 707.5,126.4 711.5,128.3 715.5,126.9 719.5,118.8 723.5,116.9 727.5,114.1 731.5,109.7 735.5,105.6 739.5,105.1 743.5,103.1 747.5,101.7 751.5,99.5 755.5,96.6 759.5,93.4 763.5,91.4 767.5,89.4 771.5,88.2 775.5,86.4 779.5,85.5 783.5,87.6 787.5,90.1 791.5,91.6 795.5,91.7 799.5,87.8 803.5,87.0 807.5,82.4 811.5,80.3 815.5,78.9 819.5,79.7 823.5,80.1 827.5,79.3 831.5,79.2 835.5,79.2 839.5,79.0 843.5,79.0 847.5,79.0 851.5,78.9 855.5,78.8 859.5,78.8 863.5,78.2 867.5,78.6 871.5,76.7 875.5,72.4 879.5,71.6 883.5,68.9 887.5,66.6 891.5,61.4 895.5,54.1 899.5,48.4 903.5,44.7 907.5,43.3 911.5,41.4 915.5,40.1 919.5,38.7 923.5,37.9 927.5,37.7 931.5,37.8 935.5,38.6 939.5,39.7 943.5,37.9 947.5,43.7 951.5,44.6 955.5,44.5 959.5,44.8 963.5,44.8 967.5,44.8 971.5,44.7 975.5,46.6 979.5,46.2 983.5,38.9 987.5,31.4 991.5,30.5 995.5,29.8 999.5,29.0" fill="none" stroke="#000" stroke-width="1" /><polyline points="3.5,258.1 6.6,259.0 12.7,259.0 16.3,258.1 22.4,256.9 29.1,256.7 32.7,258.1 37.0,262.4 40.6,266.0 43.6,270.9 46.1,276.3 49.1,291.5 52.7,301.0 57.5,308.7 64.8,317.2 70.9,326.3 77.0,330.6 79.5,332.5 83.5,335.3 87.5,336.1 91.5,338.0 95.5,337.7 99.5,336.9 103.5,335.5 107.5,333.6 111.5,333.2 115.5,332.5 119.5,334.5 123.5,337.0 127.5,337.6 131.5,339.7 135.5,340.3 139.5,340.1 143.5,340.2 147.5,340.8 151.5,343.5 155.5,344.4 159.5,344.6 163.5,344.3 167.5,344.3 171.5,344.3 175.5,344.8 179.5,345.2 183.5,345.8 187.5,344.2 191.5,343.5 195.5,340.0 199.5,333.7 203.5,324.9 207.5,320.6 211.5,312.1 215.5,306.1 219.5,302.5 223.5,296.3 227.5,295.3 231.5,295.3 235.5,295.1 239.5,293.9 243.5,290.1 247.5,288.5 251.5,285.7 255.5,285.0 259.5,284.5 263.5,284.5 267.5,295.6 271.5,305.6 275.5,316.7 279.5,322.8 283.5,327.3 287.5,333.2 291.5,342.7 295.5,352.7 299.5,358.9 303.5,363.2 307.5,366.3 311.5,369.8 315.5,369.7 319.5,372.5 323.5,374.0 327.5,373.9 331.5,375.9 335.5,374.2 339.5,365.9 343.5,357.9 347.5,357.4 351.5,357.4 355.5,357.4 359.5,366.4 363.5,372.2 367.5,380.9 371.5,384.5 375.5,383.0 379.5,380.3 383.5,378.0 387.5,377.1 391.5,377.1 395.5,378.3 399.5,374.3 403.5,369.2 407.5,365.0 411.5,359.2 415.5,355.1 419.5,352.9 423.5,345.1 427.5,336.8 431.5,327.3 435.5,312.4 439.5,307.8 443.5,301.7 447.5,299.4 451.5,296.8 455.5,289.9 459.5,278.7 463.5,260.5 467.5,247.6 471.5,239.9 475.5,230.6 479.5,216.3 483.5,199.2 487.5,189.8 491.5,187.0 495.5,186.2 499.5,187.0 503.5,186.3 507.5,184.8 511.5,184.2 515.5,183.7 519.5,182.9 523.5,181.5 527.5,182.1 531.5,183.0 535.5,186.8 539.5,191.0 543.5,197.1 547.5,201.6 551.5,203.2 555.5,204.3 559.5,204.3 563.5,204.0 567.5,204.3 571.5,204.3 575.5,204.2 579.5,203.5 583.5,205.1 587.5,206.9 591.5,207.9 595.5,208.8 599.5,210.4 603.5,209.9 607.5,209.4 611.5,208.6 615.5,205.6 619.5,199.7 623.5,192.8 627.5,184.6 631.5,179.2 635.5,173.5 639.5,170.6 643.5,167.8 647.5,171.7 651.5,173.5 655.5,175.2 659.5,176.5 663.5,177.2 667.5,177.3 671.5,178.0 675.5,177.7 679.5,176.4 683.5,176.4 687.5,177.2 691.5,177.3 695.5,176.7 699.5,176.7 703.5,177.2 707.5,178.3 711.5,177.7 715.5,178.0 719.5,181.5 723.5,181.0 727.5,178.4 731.5,176.7 735.5,174.8 739.5,171.5 743.5,169.2 747.5,167.1 751.5,163.9 755.5,163.0 759.5,162.2 763.5,160.7 767.5,159.9 771.5,158.2 775.5,157.6 779.5,156.1 783.5,148.8 787.5,139.5 791.5,133.0 795.5,128.7 799.5,130.2 803.5,126.7 807.5,127.1 811.5,127.0 815.5,126.6 819.5,122.6 823.5,121.7 827.5,123.0 831.5,123.5 835.5,123.1 839.5,124.4 843.5,124.4 847.5,124.3 851.5,123.5 855.5,123.1 859.5,122.1 863.5,121.2 867.5,122.5 871.5,123.0 875.5,124.9 879.5,125.2 883.5,126.3 887.5,127.5 891.5,129.9 895.5,133.2 899.5,134.8 903.5,133.3 907.5,128.5 911.5,125.5 915.5,123.2 919.5,118.8 923.5,114.7 927.5,110.4 931.5,106.4 935.5,104.7 939.5,99.9 943.5,97.1 947.5,87.2 951.5,84.9 955.5,84.3 959.5,81.7 963.5,81.6 967.5,81.7 971.5,83.5 975.5,83.6 979.5,83.8 983.5,88.0 987.5,91.6 991.5,91.4 995.5,90.7 999.5,90.7" fill="none" stroke="#000" stroke-width="1" /></g>
<g shape-rendering="crispEdges"><line x1="479.5" y1="226.5" x2="1007.5" y2="85.9666666666667" stroke="#f00" stroke-width="1"/><rect x="477.5" y="224.5" width="4" height="4" fill="#fff" stroke="#f00" stroke-width="1"/><rect x="675.5" y="171.5" width="4" height="4" fill="#fff" stroke="#f00" stroke-width="1"/><rect x="873.5" y="119.5" width="4" height="4" fill="#fff" stroke="#f00" stroke-width="1"/></g>
</g>
<g clip-path="url(#cd)">
<g shape-rendering="crispEdges" fill="#0000a0"><rect x="3" y="479" width="1" height="17"/><rect x="7" y="485" width="1" height="11"/><rect x="11" y="491" width="1" height="5"/><rect x="15" y="494" width="1" height="2"/><rect x="19" y="495" width="1" height="2"/><rect x="23" y="495" width="1" height="3"/><rect x="27" y="495" width="1" height="1"/><rect x="31" y="495" width="1" height="4"/><rect x="35" y="495" width="1" height="6"/><rect x="39" y="495" width="1" height="12"/><rect x="43" y="495" width="1" height="17"/><rect x="47" y="495" width="1" height="32"/><rect x="51" y="495" width="1" height="43"/><rect x="55" y="495" width="1" height="49"/><rect x="59" y="495" width="1" height="51"/><rect x="63" y="495" width="1" height="55"/><rect x="67" y="495" width="1" height="59"/><rect x="71" y="495" width="1" height="59"/><rect x="75" y="495" width="1" height="59"/><rect x="79" y="495" width="1" height="57"/><rect x="83" y="495" width="1" height="57"/><rect x="87" y="495" width="1" height="51"/><rect x="91" y="495" width="1" height="50"/><rect x="95" y="495" width="1" height="45"/><rect x="99" y="495" width="1" height="41"/><rect x="103" y="495" width="1" height="40"/><rect x="107" y="495" width="1" height="43"/><rect x="111" y="495" width="1" height="46"/><rect x="115" y="495" width="1" height="50"/><rect x="119" y="495" width="1" height="53"/><rect x="123" y="495" width="1" height="57"/><rect x="127" y="495" width="1" height="53"/><rect x="131" y="495" width="1" height="53"/><rect x="135" y="495" width="1" height="49"/><rect x="139" y="495" width="1" height="42"/><rect x="143" y="495" width="1" height="37"/><rect x="147" y="495" width="1" height="28"/><rect x="151" y="495" width="1" height="16"/><rect x="155" y="495" width="1" height="9"/><rect x="159" y="495" width="1" height="5"/><rect x="163" y="495" width="1" height="5"/><rect x="167" y="495" width="1" height="2"/><rect x="171" y="494" width="1" height="2"/><rect x="175" y="490" width="1" height="6"/><rect x="179" y="488" width="1" height="8"/><rect x="183" y="484" width="1" height="12"/><rect x="187" y="483" width="1" height="13"/><rect x="191" y="477" width="1" height="19"/><rect x="195" y="474" width="1" height="22"/><rect x="199" y="475" width="1" height="21"/><rect x="203" y="472" width="1" height="24"/><rect x="207" y="472" width="1" height="24"/><rect x="211" y="475" width="1" height="21"/><rect x="215" y="476" width="1" height="20"/><rect x="219" y="478" width="1" height="18"/><rect x="223" y="479" width="1" height="17"/><rect x="227" y="480" width="1" height="16"/><rect x="231" y="480" width="1" height="16"/><rect x="235" y="479" width="1" height="17"/><rect x="239" y="480" width="1" height="16"/><rect x="243" y="480" width="1" height="16"/><rect x="247" y="477" width="1" height="19"/><rect x="251" y="479" width="1" height="17"/><rect x="255" y="480" width="1" height="16"/><rect x="259" y="479" width="1" height="17"/><rect x="263" y="481" width="1" height="15"/><rect x="267" y="493" width="1" height="3"/><rect x="271" y="495" width="1" height="9"/><rect x="275" y="495" width="1" height="20"/><rect x="279" y="495" width="1" height="26"/><rect x="283" y="495" width="1" height="29"/><rect x="287" y="495" width="1" height="34"/><rect x="291" y="495" width="1" height="41"/><rect x="295" y="495" width="1" height="49"/><rect x="299" y="495" width="1" height="52"/><rect x="303" y="495" width="1" height="52"/><rect x="307" y="495" width="1" height="50"/><rect x="311" y="495" width="1" height="50"/><rect x="315" y="495" width="1" height="43"/><rect x="319" y="495" width="1" height="44"/><rect x="323" y="495" width="1" height="45"/><rect x="327" y="495" width="1" height="46"/><rect x="331" y="495" width="1" height="49"/><rect x="335" y="495" width="1" height="47"/><rect x="339" y="495" width="1" height="41"/><rect x="343" y="495" width="1" height="37"/><rect x="347" y="495" width="1" height="32"/><rect x="351" y="495" width="1" height="26"/><rect x="355" y="495" width="1" height="24"/><rect x="359" y="495" width="1" height="9"/><rect x="363" y="490" width="1" height="6"/><rect x="367" y="474" width="1" height="22"/><rect x="371" y="462" width="1" height="34"/><rect x="375" y="457" width="1" height="39"/><rect x="379" y="459" width="1" height="37"/><rect x="383" y="462" width="1" height="34"/><rect x="387" y="458" width="1" height="38"/><rect x="391" y="449" width="1" height="47"/><rect x="395" y="442" width="1" height="54"/><rect x="399" y="440" width="1" height="56"/><rect x="403" y="438" width="1" height="58"/><rect x="407" y="429" width="1" height="67"/><rect x="411" y="417" width="1" height="79"/><rect x="415" y="405" width="1" height="91"/><rect x="419" y="395" width="1" height="101"/><rect x="423" y="390" width="1" height="106"/><rect x="427" y="388" width="1" height="108"/><rect x="431" y="387" width="1" height="109"/><rect x="435" y="387" width="1" height="109"/><rect x="439" y="388" width="1" height="108"/><rect x="443" y="393" width="1" height="103"/><rect x="447" y="393" width="1" height="103"/><rect x="451" y="392" width="1" height="104"/><rect x="455" y="397" width="1" height="99"/><rect x="459" y="393" width="1" height="103"/><rect x="463" y="397" width="1" height="99"/><rect x="467" y="403" width="1" height="93"/><rect x="471" y="409" width="1" height="87"/><rect x="475" y="414" width="1" height="82"/><rect x="479" y="418" width="1" height="78"/><rect x="483" y="425" width="1" height="71"/><rect x="487" y="429" width="1" height="67"/><rect x="491" y="433" width="1" height="63"/><rect x="495" y="434" width="1" height="62"/><rect x="499" y="434" width="1" height="62"/><rect x="503" y="436" width="1" height="60"/><rect x="507" y="441" width="1" height="55"/><rect x="511" y="447" width="1" height="49"/><rect x="515" y="451" width="1" height="45"/><rect x="519" y="454" width="1" height="42"/><rect x="523" y="460" width="1" height="36"/><rect x="527" y="464" width="1" height="32"/><rect x="531" y="467" width="1" height="29"/><rect x="535" y="475" width="1" height="21"/><rect x="539" y="484" width="1" height="12"/><rect x="543" y="491" width="1" height="5"/><rect x="547" y="495" width="1" height="3"/><rect x="551" y="495" width="1" height="4"/><rect x="555" y="495" width="1" height="3"/><rect x="559" y="495" width="1" height="1"/><rect x="563" y="492" width="1" height="4"/><rect x="567" y="487" width="1" height="9"/><rect x="571" y="484" width="1" height="12"/><rect x="575" y="481" width="1" height="15"/><rect x="579" y="477" width="1" height="19"/><rect x="583" y="471" width="1" height="25"/><rect x="587" y="467" width="1" height="29"/><rect x="591" y="464" width="1" height="32"/><rect x="595" y="462" width="1" height="34"/><rect x="599" y="459" width="1" height="37"/><rect x="603" y="460" width="1" height="36"/><rect x="607" y="462" width="1" height="34"/><rect x="611" y="466" width="1" height="30"/><rect x="615" y="471" width="1" height="25"/><rect x="619" y="474" width="1" height="22"/><rect x="623" y="471" width="1" height="25"/><rect x="627" y="473" width="1" height="23"/><rect x="631" y="471" width="1" height="25"/><rect x="635" y="473" width="1" height="23"/><rect x="639" y="477" width="1" height="19"/><rect x="643" y="480" width="1" height="16"/><rect x="647" y="487" width="1" height="9"/><rect x="651" y="492" width="1" height="4"/><rect x="655" y="495" width="1" height="1"/><rect x="659" y="495" width="1" height="2"/><rect x="663" y="495" width="1" height="2"/><rect x="667" y="495" width="1" height="1"/><rect x="671" y="495" width="1" height="2"/><rect x="675" y="492" width="1" height="4"/><rect x="679" y="489" width="1" height="7"/><rect x="683" y="487" width="1" height="9"/><rect x="687" y="483" width="1" height="13"/><rect x="691" y="481" width="1" height="15"/><rect x="695" y="478" width="1" height="18"/><rect x="699" y="477" width="1" height="19"/><rect x="703" y="482" width="1" height="14"/><rect x="707" y="487" width="1" height="9"/><rect x="711" y="487" width="1" height="9"/><rect x="715" y="485" width="1" height="11"/><rect x="719" y="476" width="1" height="20"/><rect x="723" y="476" width="1" height="20"/><rect x="727" y="472" width="1" height="24"/><rect x="731" y="467" width="1" height="29"/><rect x="735" y="463" width="1" height="33"/><rect x="739" y="465" width="1" height="31"/><rect x="743" y="464" width="1" height="32"/><rect x="747" y="465" width="1" height="31"/><rect x="751" y="463" width="1" height="33"/><rect x="755" y="461" width="1" height="35"/><rect x="759" y="460" width="1" height="36"/><rect x="763" y="460" width="1" height="36"/><rect x="767" y="460" width="1" height="36"/><rect x="771" y="462" width="1" height="34"/><rect x="775" y="462" width="1" height="34"/><rect x="779" y="464" width="1" height="32"/><rect x="783" y="465" width="1" height="31"/><rect x="787" y="463" width="1" height="33"/><rect x="791" y="463" width="1" height="33"/><rect x="795" y="462" width="1" height="34"/><rect x="799" y="460" width="1" height="36"/><rect x="803" y="459" width="1" height="37"/><rect x="807" y="456" width="1" height="40"/><rect x="811" y="457" width="1" height="39"/><rect x="815" y="459" width="1" height="37"/><rect x="819" y="461" width="1" height="35"/><rect x="823" y="468" width="1" height="28"/><rect x="827" y="476" width="1" height="20"/><rect x="831" y="480" width="1" height="16"/><rect x="835" y="481" width="1" height="15"/><rect x="839" y="485" width="1" height="11"/><rect x="843" y="487" width="1" height="9"/><rect x="847" y="487" width="1" height="9"/><rect x="851" y="487" width="1" height="9"/><rect x="855" y="487" width="1" height="9"/><rect x="859" y="487" width="1" height="9"/><rect x="863" y="485" width="1" height="11"/><rect x="867" y="488" width="1" height="8"/><rect x="871" y="483" width="1" height="13"/><rect x="875" y="477" width="1" height="19"/><rect x="879" y="475" width="1" height="21"/><rect x="883" y="471" width="1" height="25"/><rect x="887" y="467" width="1" height="29"/><rect x="891" y="463" width="1" height="33"/><rect x="895" y="457" width="1" height="39"/><rect x="899" y="454" width="1" height="42"/><rect x="903" y="453" width="1" height="43"/><rect x="907" y="454" width="1" height="42"/><rect x="911" y="455" width="1" height="41"/><rect x="915" y="458" width="1" height="38"/><rect x="919" y="457" width="1" height="39"/><rect x="923" y="458" width="1" height="38"/><rect x="927" y="460" width="1" height="36"/><rect x="931" y="462" width="1" height="34"/><rect x="935" y="471" width="1" height="25"/><rect x="939" y="472" width="1" height="24"/><rect x="943" y="468" width="1" height="28"/><rect x="947" y="472" width="1" height="24"/><rect x="951" y="474" width="1" height="22"/><rect x="955" y="475" width="1" height="21"/><rect x="959" y="475" width="1" height="21"/><rect x="963" y="478" width="1" height="18"/><rect x="967" y="480" width="1" height="16"/><rect x="971" y="484" width="1" height="12"/><rect x="975" y="485" width="1" height="11"/><rect x="979" y="482" width="1" height="14"/><rect x="983" y="474" width="1" height="22"/><rect x="987" y="466" width="1" height="30"/><rect x="991" y="468" width="1" height="28"/><rect x="995" y="469" width="1" height="27"/><rect x="999" y="470" width="1" height="26"/></g>
<g shape-rendering="crispEdges"><polyline points="3.5,479.1 7.5,485.9 11.5,491.3 15.5,494.1 19.5,496.6 23.5,497.0 27.5,495.7 31.5,498.2 35.5,500.5 39.5,506.3 43.5,511.5 47.5,526.4 51.5,538.0 55.5,543.6 59.5,546.0 63.5,549.5 67.5,553.3 71.5,553.7 75.5,553.4 79.5,551.7 83.5,551.5 87.5,546.0 91.5,544.6 95.5,539.9 99.5,535.3 103.5,534.4 107.5,537.7 111.5,540.5 115.5,544.4 119.5,547.8 123.5,551.4 127.5,548.0 131.5,547.4 135.5,543.1 139.5,536.3 143.5,532.0 147.5,522.5 151.5,510.7 155.5,503.7 159.5,499.8 163.5,499.2 167.5,496.7 171.5,494.9 175.5,490.9 179.5,488.0 183.5,484.7 187.5,483.8 191.5,478.0 195.5,474.0 199.5,475.1 203.5,472.8 207.5,472.7 211.5,475.5 215.5,476.3 219.5,478.1 223.5,479.9 227.5,480.6 231.5,480.0 235.5,479.3 239.5,480.6 243.5,480.1 247.5,477.9 251.5,479.6 255.5,480.8 259.5,479.1 263.5,481.5 267.5,493.4 271.5,503.9 275.5,514.7 279.5,520.3 283.5,523.7 287.5,528.2 291.5,536.0 295.5,543.6 299.5,546.3 303.5,546.2 307.5,544.5 311.5,544.6 315.5,538.0 319.5,538.9 323.5,539.4 327.5,540.3 331.5,543.1 335.5,541.4 339.5,535.3 343.5,531.9 347.5,526.1 351.5,520.4 355.5,518.6 359.5,503.1 363.5,490.5 367.5,474.9 371.5,462.9 375.5,457.3 379.5,459.2 383.5,462.5 387.5,458.5 391.5,449.1 395.5,442.5 399.5,440.2 403.5,438.0 407.5,429.4 411.5,417.3 415.5,405.8 419.5,395.3 423.5,390.5 427.5,388.8 431.5,387.8 435.5,387.5 439.5,388.7 443.5,393.1 447.5,393.3 451.5,392.4 455.5,397.8 459.5,393.3 463.5,397.6 467.5,403.5 471.5,409.7 475.5,414.8 479.5,418.0 483.5,425.8 487.5,429.8 491.5,433.1 495.5,435.0 499.5,434.5 503.5,436.2 507.5,441.7 511.5,447.3 515.5,451.8 519.5,454.8 523.5,460.3 527.5,464.1 531.5,467.9 535.5,475.8 539.5,484.7 543.5,492.0 547.5,497.3 551.5,498.2 555.5,497.9 559.5,495.3 563.5,492.7 567.5,487.0 571.5,484.4 575.5,481.5 579.5,477.9 583.5,471.9 587.5,467.4 591.5,464.7 595.5,462.5 599.5,459.2 603.5,460.2 607.5,462.5 611.5,466.0 615.5,472.0 619.5,474.3 623.5,471.4 627.5,473.3 631.5,471.2 635.5,473.2 639.5,477.0 643.5,480.2 647.5,487.3 651.5,492.2 655.5,495.3 659.5,496.8 663.5,496.7 667.5,495.4 671.5,496.1 675.5,492.8 679.5,489.7 683.5,487.3 687.5,483.6 691.5,481.8 695.5,478.4 699.5,477.1 703.5,482.4 707.5,487.2 711.5,487.4 715.5,485.2 719.5,477.0 723.5,476.1 727.5,472.8 731.5,467.9 735.5,464.0 739.5,465.6 743.5,464.8 747.5,465.3 751.5,463.1 755.5,461.7 759.5,460.0 763.5,460.3 767.5,460.7 771.5,462.2 775.5,462.7 779.5,464.7 783.5,465.9 787.5,463.8 791.5,463.2 795.5,462.6 799.5,460.3 803.5,459.7 807.5,456.9 811.5,457.6 815.5,459.1 819.5,461.6 823.5,468.1 827.5,476.7 831.5,480.5 835.5,481.7 839.5,485.5 843.5,487.1 847.5,487.9 851.5,487.5 855.5,487.2 859.5,487.1 863.5,485.1 867.5,488.1 871.5,483.7 875.5,477.4 879.5,475.2 883.5,471.7 887.5,467.8 891.5,463.3 895.5,457.7 899.5,454.5 903.5,453.9 907.5,454.7 911.5,455.7 915.5,458.2 919.5,457.9 923.5,458.9 927.5,460.5 931.5,462.4 935.5,471.6 939.5,472.3 943.5,468.9 947.5,472.2 951.5,474.7 955.5,475.8 959.5,475.4 963.5,478.7 967.5,480.5 971.5,484.3 975.5,485.7 979.5,482.2 983.5,474.1 987.5,466.7 991.5,468.1 995.5,470.0 999.5,470.5" fill="none" stroke="#c0c0c0" stroke-width="1" /><polyline points="3.5,461.1 7.5,465.0 11.5,468.1 15.5,472.5 19.5,477.1 23.5,481.0 27.5,485.1 31.5,488.0 35.5,493.2 39.5,496.2 43.5,499.0 47.5,502.9 51.5,507.8 55.5,513.0 59.5,518.5 63.5,524.4 67.5,530.6 71.5,536.5 75.5,541.7 79.5,546.2 83.5,549.0 87.5,549.9 91.5,550.0 95.5,549.3 99.5,547.7 103.5,545.6 107.5,543.8 111.5,542.4 115.5,541.6 119.5,541.2 123.5,541.8 127.5,542.2 131.5,543.0 135.5,543.9 139.5,544.1 143.5,543.4 147.5,541.4 151.5,537.7 155.5,532.8 159.5,527.1 163.5,521.6 167.5,516.0 171.5,510.6 175.5,505.6 179.5,500.7 183.5,496.5 187.5,493.5 191.5,490.7 195.5,487.8 199.5,485.1 203.5,482.5 207.5,480.0 211.5,478.3 215.5,477.0 219.5,476.3 223.5,475.8 227.5,476.1 231.5,476.8 235.5,477.3 239.5,478.1 243.5,479.0 247.5,479.2 251.5,479.6 255.5,479.9 259.5,479.8 263.5,479.9 267.5,481.4 271.5,484.1 275.5,487.9 279.5,492.4 283.5,497.4 287.5,502.8 291.5,509.0 295.5,516.1 299.5,523.3 303.5,529.2 307.5,533.7 311.5,537.0 315.5,539.0 319.5,540.7 323.5,541.9 327.5,542.4 331.5,542.4 335.5,541.8 339.5,540.6 343.5,539.2 347.5,537.1 351.5,535.2 355.5,532.9 359.5,528.9 363.5,523.4 367.5,515.8 371.5,507.1 375.5,498.4 379.5,490.3 383.5,483.3 387.5,476.4 391.5,468.7 395.5,461.9 399.5,456.3 403.5,452.3 407.5,448.5 411.5,444.1 415.5,438.1 419.5,430.7 423.5,423.1 427.5,416.4 431.5,410.3 435.5,404.5 439.5,399.0 443.5,395.0 447.5,392.3 451.5,390.8 455.5,391.1 459.5,391.4 463.5,392.4 467.5,394.1 471.5,396.6 475.5,399.5 479.5,402.3 483.5,405.9 487.5,410.0 491.5,414.0 495.5,418.6 499.5,422.7 503.5,426.3 507.5,429.9 511.5,433.5 515.5,437.2 519.5,440.5 523.5,443.9 527.5,447.3 531.5,451.0 535.5,455.5 539.5,460.9 543.5,466.5 547.5,472.1 551.5,477.2 555.5,482.0 559.5,485.9 563.5,489.1 567.5,491.2 571.5,492.2 575.5,491.8 579.5,490.2 583.5,487.4 587.5,484.0 591.5,480.3 595.5,476.7 599.5,472.9 603.5,470.0 607.5,467.5 611.5,465.8 615.5,465.2 619.5,465.4 623.5,465.9 627.5,466.8 631.5,467.8 635.5,469.4 639.5,471.2 643.5,473.2 647.5,475.6 651.5,477.8 655.5,480.1 659.5,482.9 663.5,485.5 667.5,488.2 671.5,490.8 675.5,492.5 679.5,493.6 683.5,493.6 687.5,492.6 691.5,491.1 695.5,489.1 699.5,486.9 703.5,485.4 707.5,484.5 711.5,483.9 715.5,483.4 719.5,482.2 723.5,481.4 727.5,480.4 731.5,479.2 735.5,477.8 739.5,475.9 743.5,473.4 747.5,471.0 751.5,468.5 755.5,466.8 759.5,465.0 763.5,463.6 767.5,462.8 771.5,462.6 775.5,462.3 779.5,462.3 783.5,462.4 787.5,462.4 791.5,462.6 795.5,462.9 799.5,462.9 803.5,462.8 807.5,462.2 811.5,461.6 815.5,461.0 819.5,460.5 823.5,461.0 827.5,462.5 831.5,464.5 835.5,466.9 839.5,469.7 843.5,473.1 847.5,476.5 851.5,479.6 855.5,482.5 859.5,484.6 863.5,485.5 867.5,486.3 871.5,486.6 875.5,485.7 879.5,484.4 883.5,482.6 887.5,480.4 891.5,477.7 895.5,474.5 899.5,471.1 903.5,467.3 907.5,464.0 911.5,461.6 915.5,459.7 919.5,458.2 923.5,457.2 927.5,456.9 931.5,457.4 935.5,459.3 939.5,461.4 943.5,462.9 947.5,464.8 951.5,466.6 955.5,468.6 959.5,470.4 963.5,472.4 967.5,474.4 971.5,475.9 975.5,477.3 979.5,478.8 983.5,479.0 987.5,478.1 991.5,477.3 995.5,476.7 999.5,475.8" fill="none" stroke="#000" stroke-width="1" /></g>
<g shape-rendering="crispEdges"><line x1="723.5" y1="415.4" x2="1011" y2="471.05178571428576" stroke="#f00" stroke-width="1"/><rect x="721.5" y="413.5" width="4" height="4" fill="#fff" stroke="#f00" stroke-width="1"/><rect x="861.5" y="440.5" width="4" height="4" fill="#fff" stroke="#f00" stroke-width="1"/><rect x="1001.5" y="467.5" width="4" height="4" fill="#fff" stroke="#f00" stroke-width="1"/></g>
</g>
<g fill="#000"><rect x="1012" y="9" width="2" height="1"/><text x="1016.8" y="13" textLength="33.2" lengthAdjust="spacingAndGlyphs">0.75020</text><rect x="1012" y="42" width="2" height="1"/><text x="1016.8" y="46" textLength="33.2" lengthAdjust="spacingAndGlyphs">0.74550</text><rect x="1012" y="75" width="2" height="1"/><text x="1016.8" y="79" textLength="33.2" lengthAdjust="spacingAndGlyphs">0.74070</text><rect x="1012" y="108" width="2" height="1"/><text x="1016.8" y="112" textLength="33.2" lengthAdjust="spacingAndGlyphs">0.73600</text><rect x="1012" y="141" width="2" height="1"/><text x="1016.8" y="145" textLength="33.2" lengthAdjust="spacingAndGlyphs">0.73130</text><rect x="1012" y="174" width="2" height="1"/><text x="1016.8" y="178" textLength="33.2" lengthAdjust="spacingAndGlyphs">0.72650</text><rect x="1012" y="207" width="2" height="1"/><text x="1016.8" y="211" textLength="33.2" lengthAdjust="spacingAndGlyphs">0.72180</text><rect x="1012" y="240" width="2" height="1"/><text x="1016.8" y="244" textLength="33.2" lengthAdjust="spacingAndGlyphs">0.71710</text><rect x="1012" y="273" width="2" height="1"/><text x="1016.8" y="277" textLength="33.2" lengthAdjust="spacingAndGlyphs">0.71230</text><rect x="1012" y="306" width="2" height="1"/><text x="1016.8" y="310" textLength="33.2" lengthAdjust="spacingAndGlyphs">0.70760</text><rect x="1012" y="339" width="2" height="1"/><text x="1016.8" y="343" textLength="33.2" lengthAdjust="spacingAndGlyphs">0.70290</text><rect x="1012" y="372" width="2" height="1"/><text x="1016.8" y="376" textLength="33.2" lengthAdjust="spacingAndGlyphs">0.69810</text><rect x="1012" y="379" width="1" height="1"/><text x="1014.6" y="388" textLength="38.7" lengthAdjust="spacingAndGlyphs">0.005433</text><rect x="1012" y="495" width="1" height="1"/><rect x="1012" y="562" width="1" height="1"/><text x="1014.6" y="499" textLength="18.3" lengthAdjust="spacingAndGlyphs">0.00</text><text x="1014.6" y="560" textLength="40.8" lengthAdjust="spacingAndGlyphs">-0.003181</text><rect x="3" y="564" width="1" height="3"/><text x="2.0" y="576" textLength="51.0" lengthAdjust="spacingAndGlyphs">13 Oct 2020</text><rect x="67" y="564" width="1" height="3"/><text x="65.2" y="576" textLength="54.7" lengthAdjust="spacingAndGlyphs">16 Oct 04:00</text><rect x="131" y="564" width="1" height="3"/><text x="129.2" y="576" textLength="54.9" lengthAdjust="spacingAndGlyphs">20 Oct 20:00</text><rect x="195" y="564" width="1" height="3"/><text x="193.2" y="576" textLength="54.9" lengthAdjust="spacingAndGlyphs">23 Oct 12:00</text><rect x="259" y="564" width="1" height="3"/><text x="257.2" y="576" textLength="54.9" lengthAdjust="spacingAndGlyphs">28 Oct 04:00</text><rect x="323" y="564" width="1" height="3"/><text x="321.2" y="576" textLength="54.9" lengthAdjust="spacingAndGlyphs">30 Oct 20:00</text><rect x="387" y="564" width="1" height="3"/><text x="385.2" y="576" textLength="52.5" lengthAdjust="spacingAndGlyphs">4 Nov 12:00</text><rect x="451" y="564" width="1" height="3"/><text x="449.2" y="576" textLength="52.7" lengthAdjust="spacingAndGlyphs">9 Nov 04:00</text><rect x="515" y="564" width="1" height="3"/><text x="513.2" y="576" textLength="57.2" lengthAdjust="spacingAndGlyphs">11 Nov 20:00</text><rect x="579" y="564" width="1" height="3"/><text x="577.2" y="576" textLength="57.4" lengthAdjust="spacingAndGlyphs">16 Nov 12:00</text><rect x="643" y="564" width="1" height="3"/><text x="641.2" y="576" textLength="57.4" lengthAdjust="spacingAndGlyphs">19 Nov 04:00</text><rect x="707" y="564" width="1" height="3"/><text x="705.2" y="576" textLength="57.4" lengthAdjust="spacingAndGlyphs">23 Nov 20:00</text><rect x="771" y="564" width="1" height="3"/><text x="769.2" y="576" textLength="57.4" lengthAdjust="spacingAndGlyphs">26 Nov 12:00</text><rect x="835" y="564" width="1" height="3"/><text x="833.2" y="576" textLength="50.2" lengthAdjust="spacingAndGlyphs">1 Dec 04:00</text><rect x="899" y="564" width="1" height="3"/><text x="897.2" y="576" textLength="50.2" lengthAdjust="spacingAndGlyphs">3 Dec 20:00</text><rect x="963" y="564" width="1" height="3"/><text x="961.2" y="576" textLength="50.7" lengthAdjust="spacingAndGlyphs">8 Dec 12:00</text></g>
<g>
<rect x="1013" y="43" width="41" height="11" fill="#000"/>
<text x="1016.8" y="53" textLength="33.2" lengthAdjust="spacingAndGlyphs" fill="#fff">0.74455</text>
<rect x="1013" y="76" width="41" height="11" fill="#f00"/>
<text x="1016.8" y="86" textLength="33.2" lengthAdjust="spacingAndGlyphs" fill="#fff">0.73970</text>
<rect x="1013" y="118" width="41" height="11" fill="#f00"/>
<text x="1016.8" y="128" textLength="33.2" lengthAdjust="spacingAndGlyphs" fill="#fff">0.73375</text>
</g>
<text x="7.3" y="14" textLength="56.2" lengthAdjust="spacingAndGlyphs">AUDUSD,H4</text><text x="68.7" y="14" textLength="32.7" lengthAdjust="spacingAndGlyphs">0.74393</text><text x="105.2" y="14" textLength="32.8" lengthAdjust="spacingAndGlyphs">0.74468</text><text x="140.9" y="14" textLength="32.8" lengthAdjust="spacingAndGlyphs">0.74200</text><text x="176.7" y="14" textLength="33.7" lengthAdjust="spacingAndGlyphs">0.74455</text>
<text x="7.1" y="390" textLength="66.0" lengthAdjust="spacingAndGlyphs">MACD(12,26,9)</text><text x="76.4" y="390" textLength="36.6" lengthAdjust="spacingAndGlyphs">0.001151</text><text x="117.0" y="390" textLength="37.9" lengthAdjust="spacingAndGlyphs">0.000920</text><text x="160.7" y="390" textLength="36.7" lengthAdjust="spacingAndGlyphs">-&gt;MA(1)</text><text x="200.1" y="390" textLength="37.3" lengthAdjust="spacingAndGlyphs">0.001151</text>
</svg></body></html>
